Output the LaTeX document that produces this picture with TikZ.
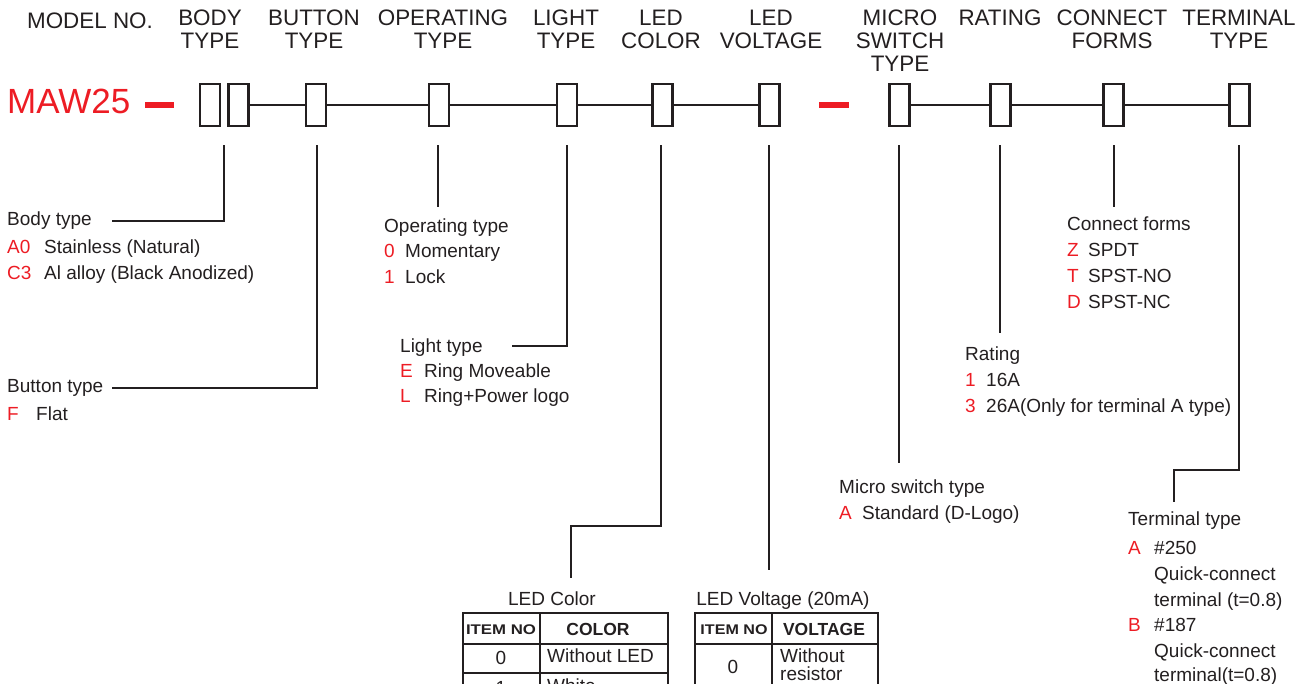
\documentclass[tikz,border=0pt]{standalone}
\usepackage{fontspec}
\usepackage{graphicx}
\setmainfont{Liberation Sans}
\definecolor{ink}{HTML}{231F20}
\definecolor{rd}{HTML}{ED1C24}
\begin{document}
\begin{tikzpicture}[x=1pt,y=-1pt,
 box/.style={draw=ink,line width=2.6pt,minimum width=20pt,minimum height=42pt,inner sep=0pt},
 hdr/.style={font=\fontsize{22.4}{23}\selectfont,align=center,text=ink,anchor=north,inner sep=0pt},
 txt/.style={font=\fontsize{19}{26}\selectfont,text=ink,anchor=base west,inner sep=0pt},
 code/.style={txt,text=rd},
 ctr/.style={font=\fontsize{19}{26}\selectfont,text=ink,anchor=base,inner sep=0pt},
 thd/.style={font=\fontsize{17.5}{20}\selectfont\bfseries,text=ink,anchor=base,inner sep=0pt},
 tin/.style={font=\fontsize{14}{16}\selectfont\bfseries,text=ink,anchor=base,inner sep=0pt},
 lead/.style={draw=ink,line width=2pt},
 chain/.style={draw=ink,line width=2pt},
 tbl/.style={draw=ink,line width=2pt},
 rdash/.style={draw=rd,line width=6.5pt}
]
\useasboundingbox (0,0) rectangle (1299,683);

% headers
\node[hdr] (hm) at (90,13) {MODEL NO.};
\node[hdr] (h1) at (210,10) {BODY\\TYPE};
\node[hdr] (h2) at (314,10) {BUTTON\\TYPE};
\node[hdr] (h3) at (443,10) {OPERATING\\TYPE};
\node[hdr] (h4) at (566,10) {LIGHT\\TYPE};
\node[hdr] (h5) at (661,10) {LED\\COLOR};
\node[hdr] (h6) at (771,10) {LED\\VOLTAGE};
\node[hdr] (h7) at (900,10) {MICRO\\SWITCH\\TYPE};
\node[hdr] (h8) at (1000,10) {RATING};
\node[hdr] (h9) at (1112,10) {CONNECT\\FORMS};
\node[hdr] (h10) at (1239,10) {TERMINAL\\TYPE};

% model code
\node[font=\fontsize{35}{37}\selectfont,text=rd,anchor=base west,inner sep=0pt] (maw) at (7,113) {MAW25};
\coordinate (d1a) at (145,105); \coordinate (d1b) at (174,105);
\draw[rdash] (d1a) -- (d1b);
\coordinate (d2a) at (819,105); \coordinate (d2b) at (849,105);
\draw[rdash] (d2a) -- (d2b);

% boxes
\node[box] (b1) at (210,105) {};
\node[box] (b2) at (238.5,105) {};
\node[box] (b3) at (316,105) {};
\node[box] (b4) at (439,105) {};
\node[box] (b5) at (567,105) {};
\node[box] (b6) at (662.5,105) {};
\node[box] (b7) at (769.5,105) {};
\node[box] (b8) at (899.5,105) {};
\node[box] (b9) at (1000.5,105) {};
\node[box] (b10) at (1113.5,105) {};
\node[box] (b11) at (1239.5,105) {};

\draw[chain] (b2.east) -- (b3.west);
\draw[chain] (b3.east) -- (b4.west);
\draw[chain] (b4.east) -- (b5.west);
\draw[chain] (b5.east) -- (b6.west);
\draw[chain] (b6.east) -- (b7.west);
\draw[chain] (b8.east) -- (b9.west);
\draw[chain] (b9.east) -- (b10.west);
\draw[chain] (b10.east) -- (b11.west);

% Body type
\node[txt] (tbody) at (7,225) {Body type};
\node[code] (ca0) at (7,253) {A0};
\node[txt] (da0) at (44,253) {Stainless (Natural)};
\node[code] (cc3) at (7,279) {C3};
\node[txt] (dc3) at (44,279) {Al alloy (Black Anodized)};
\coordinate (l1t) at (224,145); \coordinate (l1e) at (112,221);
\draw[lead] (l1t) |- (l1e);

% Button type
\node[txt] (tbtn) at (7,392) {Button type};
\node[code] (cf) at (7,420) {F};
\node[txt] (df) at (36,420) {Flat};
\coordinate (l2t) at (317,145); \coordinate (l2e) at (112,388);
\draw[lead] (l2t) |- (l2e);

% Operating type
\node[txt] (top) at (384,232) {Operating type};
\node[code] (c0) at (384,257) {0};
\node[txt] (d0) at (405,257) {Momentary};
\node[code] (c1) at (384,283) {1};
\node[txt] (d1) at (405,283) {Lock};
\coordinate (l3t) at (438,145); \coordinate (l3e) at (438,207);
\draw[lead] (l3t) -- (l3e);

% Light type
\node[txt] (tlt) at (400,352) {Light type};
\node[code] (ce) at (400,377) {E};
\node[txt] (de) at (424,377) {Ring Moveable};
\node[code] (cl) at (400,402) {L};
\node[txt] (dl) at (424,402) {Ring+Power logo};
\coordinate (l4t) at (567,145); \coordinate (l4e) at (512,346);
\draw[lead] (l4t) |- (l4e);

% LED color
\coordinate (l5t) at (661,145); \coordinate (l5m) at (661,526);
\coordinate (l5n) at (571,526); \coordinate (l5e) at (571,578);
\draw[lead] (l5t) -- (l5m) -- (l5n) -- (l5e);
\node[ctr] (tcol) at (552,605) {LED Color};
\draw[tbl] (463,613) rectangle (668,700);
\draw[tbl] (463,644) -- (668,644);
\draw[tbl] (463,673) -- (668,673);
\draw[tbl] (540,613) -- (540,700);
\node[tin] (ci) at (501,634) {\scalebox{1.2}[1]{ITEM NO}};
\node[thd] (cc) at (598,635) {COLOR};
\node[ctr] (cr0) at (501,664) {0};
\node[txt] (cr0d) at (547,662) {Without LED};
\node[ctr] (cr1) at (501,694) {1};
\node[txt] (cr1d) at (547,692) {White};

% LED voltage
\coordinate (l6t) at (769,145); \coordinate (l6e) at (769,570);
\draw[lead] (l6t) -- (l6e);
\node[ctr] (tvol) at (783,605) {LED Voltage (20mA)};
\draw[tbl] (695,613) rectangle (878,720);
\draw[tbl] (695,644) -- (878,644);
\draw[tbl] (772,613) -- (772,720);
\node[tin] (vi) at (734,634) {\scalebox{1.15}[1]{ITEM NO}};
\node[thd] (vv) at (824,635) {VOLTAGE};
\node[ctr] (vr0) at (733,673) {0};
\node[txt] (vr0a) at (780,662) {Without};
\node[txt] (vr0b) at (780,680) {resistor};

% Micro switch
\coordinate (l7t) at (899,145); \coordinate (l7e) at (899,463);
\draw[lead] (l7t) -- (l7e);
\node[txt] (tms) at (839,493) {Micro switch type};
\node[code] (cma) at (839,519) {A};
\node[txt] (dma) at (862,519) {Standard (D-Logo)};

% Rating
\coordinate (l8t) at (1000,145); \coordinate (l8e) at (1000,333);
\draw[lead] (l8t) -- (l8e);
\node[txt] (trt) at (965,360) {Rating};
\node[code] (cr1x) at (965,386) {1};
\node[txt] (dr1x) at (986,386) {16A};
\node[code] (cr3x) at (965,412) {3};
\node[txt] (dr3x) at (986,412) {26A(Only for terminal A type)};

% Connect forms
\coordinate (l9t) at (1114,145); \coordinate (l9e) at (1114,207);
\draw[lead] (l9t) -- (l9e);
\node[txt] (tcf) at (1067,230) {Connect forms};
\node[code] (cz) at (1067,256) {Z};
\node[txt] (dz) at (1088,256) {SPDT};
\node[code] (ct) at (1067,282) {T};
\node[txt] (dt) at (1088,282) {SPST-NO};
\node[code] (cd) at (1067,308) {D};
\node[txt] (dd) at (1088,308) {SPST-NC};

% Terminal type
\coordinate (l10t) at (1239,145); \coordinate (l10m) at (1239,470);
\coordinate (l10n) at (1174,470); \coordinate (l10e) at (1174,502);
\draw[lead] (l10t) -- (l10m) -- (l10n) -- (l10e);
\node[txt] (ttt) at (1128,525) {Terminal type};
\node[code] (cta) at (1128,554) {A};
\node[txt] (dta1) at (1154,554) {\#250};
\node[txt] (dta2) at (1154,580) {Quick-connect};
\node[txt] (dta3) at (1154,606) {terminal (t=0.8)};
\node[code] (ctb) at (1128,631) {B};
\node[txt] (dtb1) at (1154,631) {\#187};
\node[txt] (dtb2) at (1154,657) {Quick-connect};
\node[txt] (dtb3) at (1154,681) {terminal(t=0.8)};
\end{tikzpicture}
\end{document}
